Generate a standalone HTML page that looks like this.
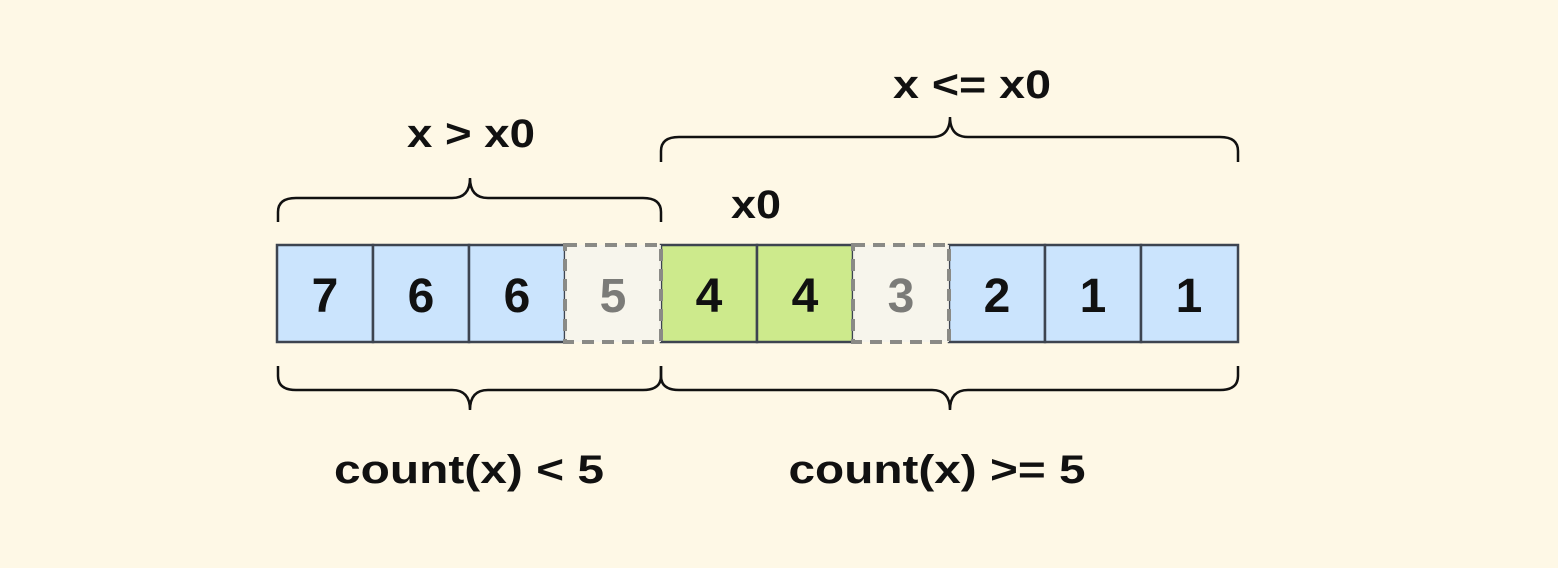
<!DOCTYPE html>
<html><head><style>html,body{margin:0;padding:0;background:#fef8e6;}svg{display:block}</style></head><body>
<svg width="1558" height="568" xmlns="http://www.w3.org/2000/svg">
<rect width="1558" height="568" fill="#fef8e6"/>
<g font-family="Liberation Sans, sans-serif" font-weight="bold" text-anchor="middle">
<g stroke="#3d4450" stroke-width="2.5">
<rect x="277" y="245" width="96" height="97" fill="#cbe4fd"/>
<rect x="373" y="245" width="96" height="97" fill="#cbe4fd"/>
<rect x="469" y="245" width="96" height="97" fill="#cbe4fd"/>
<rect x="661" y="245" width="96" height="97" fill="#cdea8c"/>
<rect x="757" y="245" width="96" height="97" fill="#cdea8c"/>
<rect x="949" y="245" width="96" height="97" fill="#cbe4fd"/>
<rect x="1045" y="245" width="96" height="97" fill="#cbe4fd"/>
<rect x="1141" y="245" width="97" height="97" fill="#cbe4fd"/>
</g>
<g stroke="#8a8a86" stroke-width="4" stroke-dasharray="12,8" fill="#f6f4ec" fill-opacity="0.9">
<rect x="565" y="245" width="96" height="97"/>
<rect x="853" y="245" width="96" height="97"/>
</g>
<g font-size="48" fill="#111">
<text x="325" y="312">7</text><text x="421" y="312">6</text><text x="517" y="312">6</text>
<text x="613" y="312" fill="#7b7b78">5</text>
<text x="709" y="312">4</text><text x="805" y="312">4</text>
<text x="901" y="312" fill="#7b7b78">3</text>
<text x="997" y="312">2</text><text x="1093" y="312">1</text><text x="1189" y="312">1</text>
</g>
<g fill="none" stroke="#111" stroke-width="2.5">
<path d="M278 222 V212 Q278 198 296 198 H452 Q470 198 470 178 Q470 198 488 198 H643 Q661 198 661 212 V222"/>
<path d="M661 162 V151 Q661 137 679 137 H932 Q950 137 950 117 Q950 137 968 137 H1220 Q1238 137 1238 151 V162"/>
<path d="M278 366 V376 Q278 390 296 390 H452 Q470 390 470 410 Q470 390 488 390 H643 Q661 390 661 376 V366"/>
<path d="M661 366 V376 Q661 390 679 390 H932 Q950 390 950 410 Q950 390 968 390 H1220 Q1238 390 1238 376 V366"/>
</g>
<g font-size="40" fill="#111">
<text x="471" y="147" textLength="128" lengthAdjust="spacingAndGlyphs">x &gt; x0</text>
<text x="972" y="98" textLength="158" lengthAdjust="spacingAndGlyphs">x &lt;= x0</text>
<text x="756" y="218" textLength="50" lengthAdjust="spacingAndGlyphs">x0</text>
<text x="469" y="483" textLength="270" lengthAdjust="spacingAndGlyphs">count(x) &lt; 5</text>
<text x="937" y="483" textLength="297" lengthAdjust="spacingAndGlyphs">count(x) &gt;= 5</text>
</g>
</g>
</svg>
</body></html>
